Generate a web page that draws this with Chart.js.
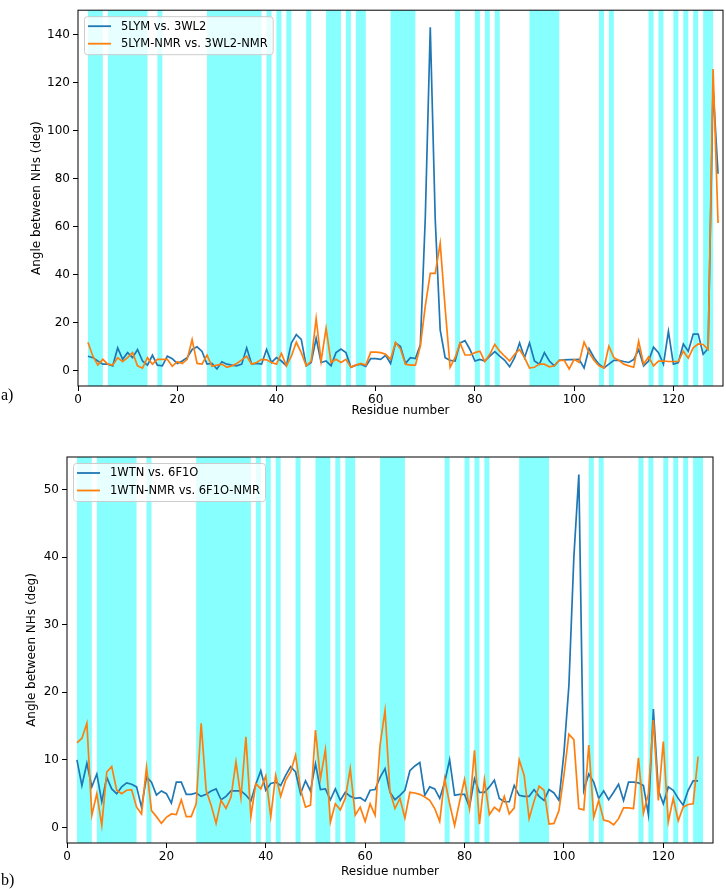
<!DOCTYPE html>
<html>
<head>
<meta charset="utf-8">
<script src="https://cdn.jsdelivr.net/npm/chart.js@4.4.1/dist/chart.umd.min.js"></script>
<style>
  body { margin: 0; background: #fff; }
  #wrap { position: relative; width: 726px; height: 889px; }
  canvas { position: absolute; left: 0; }
  #chartA { top: 0; }
  #chartB { top: 440px; }
  .panel { position: absolute; left: 1px; font-family: "Liberation Serif", serif; font-size: 16px; color: #000; }
</style>
</head>
<body>
<div id="wrap">
  <canvas id="chartA" width="726" height="420"></canvas>
  <canvas id="chartB" width="726" height="449"></canvas>
  <div class="panel" style="top:386px">a)</div>
  <div class="panel" style="top:871px">b)</div>
</div>
<script>
// residue numbers
const residuesA = [2,3,4,5,6,7,8,9,10,11,12,13,14,15,16,17,18,19,20,21,22,23,24,25,26,27,28,29,30,31,32,33,34,35,36,37,38,39,40,41,42,43,44,45,46,47,48,49,50,51,52,53,54,55,56,57,58,59,60,61,62,63,64,65,66,67,68,69,70,71,72,73,74,75,76,77,78,79,80,81,82,83,84,85,86,87,88,89,90,91,92,93,94,95,96,97,98,99,100,101,102,103,104,105,106,107,108,109,110,111,112,113,114,115,116,117,118,119,120,121,122,123,124,125,126,127,128,129];
const residuesB = [2,3,4,5,6,7,8,9,10,11,12,13,14,15,16,17,18,19,20,21,22,23,24,25,26,27,28,29,30,31,32,33,34,35,36,37,38,39,40,41,42,43,44,45,46,47,48,49,50,51,52,53,54,55,56,57,58,59,60,61,62,63,64,65,66,67,68,69,70,71,72,73,74,75,76,77,78,79,80,81,82,83,84,85,86,87,88,89,90,91,92,93,94,95,96,97,98,99,100,101,102,103,104,105,106,107,108,109,110,111,112,113,114,115,116,117,118,119,120,121,122,123,124,125,126,127];

// a) 5LYM vs 3WL2
const crystalA = [6.0,5.4,4.0,2.7,2.7,2.0,9.5,4.7,7.5,5.4,8.8,4.0,2.3,6.4,2.3,2.0,6.0,5.0,3.0,4.0,
  5.4,8.8,9.9,8.0,2.7,3.0,0.7,3.7,2.7,2.3,2.0,2.7,9.5,2.7,3.0,2.7,8.8,3.4,5.4,4.0,
  2.0,11.5,15.0,13.0,2.0,3.4,13.5,3.4,4.0,2.0,7.5,9.0,7.5,1.4,2.3,2.7,1.8,5.0,5.0,4.7,
  6.4,3.0,11.5,10.0,3.0,5.4,5.0,10.8,64,143,63,17,5.4,4.3,4.0,11.5,12.5,8.8,4.0,4.7,
  4.0,6.0,7.9,6.0,4.3,1.6,5.4,11.5,5.4,11.5,4.0,2.7,7.5,4.0,2.0,4.3,4.5,4.6,4.6,4.7,
  1.1,9.2,5.4,2.7,1.1,2.7,4.3,4.3,3.8,3.4,4.6,8.8,2.0,4.0,9.8,7.5,2.7,16.3,2.7,3.4,
  11.1,8.1,15.2,15.2,6.8,9.2,118,82];
const nmrA = [11.8,6.0,2.3,4.7,2.7,2.3,5.4,3.7,5.4,7.5,2.0,1.0,5.4,2.7,4.7,4.7,4.7,1.8,3.7,3.0,
  4.7,12.9,3.0,2.7,6.4,1.8,2.3,2.7,1.4,2.0,3.0,4.5,6.0,2.7,3.4,4.7,4.5,3.4,2.7,7.2,
  2.0,6.0,11.8,7.5,2.0,4.0,21.7,4.0,17.6,3.4,4.7,3.4,4.7,1.4,2.3,3.0,2.3,7.7,7.7,7.5,
  6.8,4.7,11.8,9.0,2.7,2.3,2.3,10.2,27,40.5,40.5,53,26,1.4,5.4,11.5,6.5,6.5,7.5,8.1,
  3.8,6.8,10.9,8.1,6.0,4.0,6.8,8.8,5.4,1.1,1.4,2.7,2.7,1.6,2.0,4.3,4.3,0.7,4.7,3.4,
  11.9,7.5,4.3,2.0,1.1,10.2,5.4,4.3,2.7,2.0,1.4,12.2,2.7,5.7,2.0,4.0,4.0,3.8,3.8,3.8,
  8.1,5.2,9.5,11.1,10.9,8.8,125.6,61.5];

// b) 1WTN vs 6F1O
const crystalB = [10.0,6.2,9.5,6.0,7.9,3.8,7.4,5.7,5.0,6.0,6.6,6.4,6.0,3.0,7.5,6.7,4.8,5.4,5.0,3.6,
  6.7,6.7,4.9,4.9,5.1,4.6,4.9,5.4,5.7,4.1,4.6,5.4,5.4,5.4,4.8,3.9,6.4,8.4,5.5,6.5,
  6.7,6.2,7.7,9.0,8.2,5.0,6.9,5.4,9.4,5.6,5.7,4.1,5.7,4.0,5.2,4.6,4.3,4.4,3.9,5.5,
  5.6,7.4,8.7,5.2,4.1,4.75,5.5,8.4,9.1,9.6,4.75,6.0,5.7,4.3,6.7,10.0,4.75,4.9,4.9,3.0,
  7.2,5.2,5.2,6.0,7.0,4.3,3.8,3.8,6.2,4.75,4.6,4.6,5.6,4.6,4.0,5.6,5.1,4.0,11.0,21.0,
  40.0,52.2,5.5,7.9,6.7,4.3,5.4,4.1,5.2,6.4,4.0,6.7,6.7,6.6,6.2,1.9,17.5,5.5,3.5,6.0,
  5.5,4.3,3.3,5.5,6.9,6.9];
const nmrB = [12.5,13.2,15.4,1.8,5.0,0.3,8.2,9.0,5.5,5.0,5.5,5.6,3.0,2.0,8.9,2.5,1.6,0.6,1.5,2.0,
  1.9,4.1,1.6,1.6,3.5,15.4,5.5,3.3,0.6,4.0,2.8,4.5,9.7,4.4,13.4,1.6,6.5,5.7,7.6,1.6,
  7.7,4.6,7.0,8.2,10.7,5.6,3.0,3.3,14.4,7.2,11.5,0.8,3.5,2.6,4.3,8.7,1.8,3.0,0.9,3.5,
  1.8,12.2,17.3,5.3,2.8,4.3,1.4,5.2,5.1,4.9,4.5,4.0,2.8,0.9,7.2,3.5,0.3,3.8,7.1,2.8,
  11.4,0.5,7.1,1.9,3.0,2.4,4.6,2.0,2.9,10.0,7.7,1.3,3.9,6.1,5.5,0.5,0.6,2.5,7.7,13.8,
  13.0,2.8,2.6,12.2,1.5,4.0,1.1,0.9,0.4,1.3,2.9,2.9,2.8,10.3,2.1,5.0,15.9,4.0,12.7,0.8,
  4.3,1.0,3.0,3.4,3.5,10.5];

// shaded residue ranges (same for both panels)
const helixSpans = [[2,5],[6,14],[16,17],[26,37],[38,39],[40,41],[42,43],[46,47],[50,53],[54,55],[56,58],
  [63,68],[76,77],[80,81],[82,83],[84,85],[91,97],[105,106],[107,108],[115,116],[117,118],[120,121],
  [122,123],[124,125],[126,128]];

const xTicksStep = 20;
const FONT = '"DejaVu Sans", sans-serif';

const spanPlugin = {
  id: 'spans',
  beforeDatasetsDraw(chart) {
    const {ctx, chartArea, scales} = chart;
    ctx.save();
    ctx.fillStyle = 'rgba(0,255,255,0.47)';
    helixSpans.forEach(([a, b]) => {
      const x0 = scales.x.getPixelForValue(a);
      const x1 = scales.x.getPixelForValue(b);
      ctx.fillRect(x0, chartArea.top, x1 - x0, chartArea.bottom - chartArea.top);
    });
    ctx.restore();
  }
};

const framePlugin = {
  id: 'frame',
  afterDraw(chart) {
    const {ctx, chartArea} = chart;
    ctx.save();
    ctx.strokeStyle = '#000';
    ctx.lineWidth = 1;
    ctx.strokeRect(chartArea.left, chartArea.top, chartArea.right - chartArea.left, chartArea.bottom - chartArea.top);
    ctx.restore();
  }
};

const legendPlugin = {
  id: 'innerLegend',
  afterDraw(chart) {
    const {ctx, chartArea} = chart;
    const sets = chart.data.datasets;
    ctx.save();
    ctx.font = '11.5px ' + FONT;
    const tw = Math.max(...sets.map(d => ctx.measureText(d.label).width));
    const x = chartArea.left + 6, y = chartArea.top + 6;
    const w = 37 + tw + 5, h = 38;
    ctx.beginPath();
    ctx.roundRect(x + 0.5, y + 0.5, w, h, 3);
    ctx.fillStyle = 'rgba(255,255,255,0.8)';
    ctx.fill();
    ctx.strokeStyle = '#cccccc';
    ctx.stroke();
    sets.forEach((d, i) => {
      const ly = y + 10 + i * 17.5;
      ctx.strokeStyle = d.borderColor;
      ctx.lineWidth = 1.8;
      ctx.beginPath();
      ctx.moveTo(x + 4, ly);
      ctx.lineTo(x + 27, ly);
      ctx.stroke();
      ctx.fillStyle = '#000';
      ctx.textBaseline = 'middle';
      ctx.fillText(d.label, x + 37, ly + 0.5);
    });
    ctx.restore();
  }
};

function makeChart(id, residues, s1, s2, labels, yMin, yMax, yStep, pad, yWidth, xHeight, titlePadBottom) {
  const ctx = document.getElementById(id).getContext('2d');
  return new Chart(ctx, {
    type: 'line',
    data: {
      datasets: [{
        label: labels[0],
        data: residues.map((r, i) => ({x: r, y: s1[i]})),
        borderColor: '#1f77b4',
        borderWidth: 1.7,
        pointRadius: 0,
        tension: 0,
        order: 1
      }, {
        label: labels[1],
        data: residues.map((r, i) => ({x: r, y: s2[i]})),
        borderColor: '#ff7f0e',
        borderWidth: 1.7,
        pointRadius: 0,
        tension: 0,
        order: 0
      }]
    },
    options: {
      responsive: false,
      animation: false,
      layout: { padding: pad },
      scales: {
        x: {
          type: 'linear',
          min: 0,
          max: 130,
          afterFit: s => { s.height = xHeight; },
          border: { display: false },
          grid: { drawOnChartArea: false, drawTicks: true, tickLength: 5, color: '#000' },
          ticks: { stepSize: xTicksStep, includeBounds: false, padding: 2, color: '#000', maxRotation: 0,
                   font: { family: FONT, size: 12 } },
          title: { display: true, text: 'Residue number', color: '#000',
                   padding: { top: 0, bottom: titlePadBottom }, font: { family: FONT, size: 12 } }
        },
        y: {
          min: yMin,
          max: yMax,
          afterFit: s => { s.width = yWidth; },
          border: { display: false },
          grid: { drawOnChartArea: false, drawTicks: true, tickLength: 5, color: '#000' },
          ticks: { stepSize: yStep, includeBounds: false, padding: 3, color: '#000',
                   font: { family: FONT, size: 12 } },
          title: { display: true, text: 'Angle between NHs (deg)', color: '#000',
                   padding: { top: 0, bottom: 0 }, font: { family: FONT, size: 12 } }
        }
      },
      plugins: {
        legend: { display: false },
        tooltip: { enabled: false }
      }
    },
    plugins: [spanPlugin, framePlugin, legendPlugin]
  });
}

makeChart('chartA', residuesA, crystalA, nmrA, ['5LYM vs. 3WL2', '5LYM-NMR vs. 3WL2-NMR'],
  -6.4, 150.1, 20, {left: 30, right: 3, top: 1, bottom: 0}, 48, 34, 2);
makeChart('chartB', residuesB, crystalB, nmrB, ['1WTN vs. 6F1O', '1WTN-NMR vs. 6F1O-NMR'],
  -2.3, 54.8, 10, {left: 25, right: 13, top: 17, bottom: 0}, 42, 46, 10);
</script>
</body>
</html>
